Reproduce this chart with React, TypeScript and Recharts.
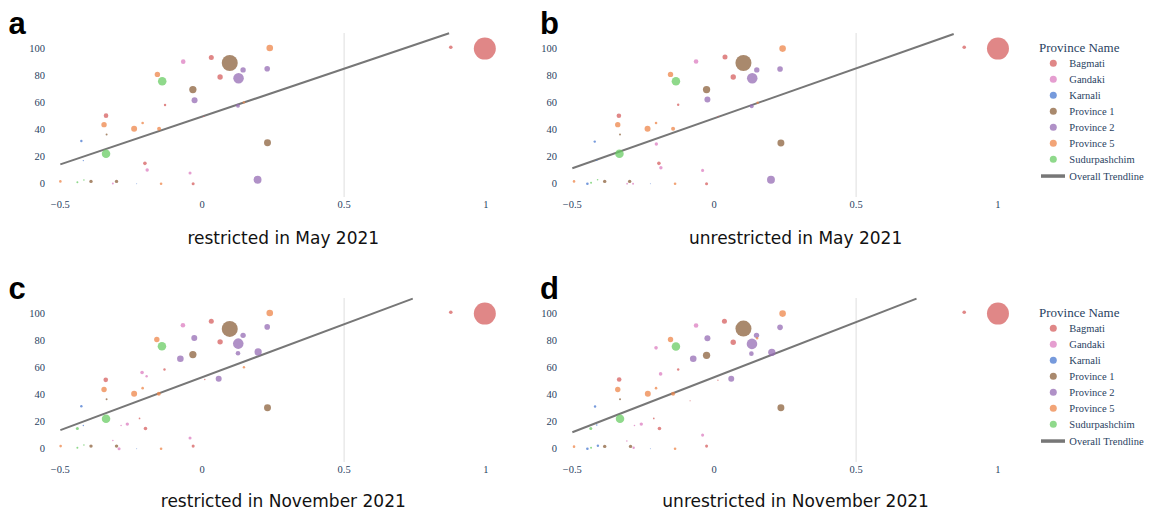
import { ScatterChart, Scatter, XAxis, YAxis, ZAxis, ReferenceLine } from "recharts";

// [province, correlation, score, size]
type Row = [string, number, number, number];

const provinces = [
  "Bagmati",
  "Gandaki",
  "Karnali",
  "Province 1",
  "Province 2",
  "Province 5",
  "Sudurpashchim",
];
const provinceColors = [
  "#D65F5F",
  "#DC7EC0",
  "#4878D0",
  "#8C613C",
  "#956CB4",
  "#EE854A",
  "#6ACC64",
];

const xTicks = [-0.5, 0, 0.5, 1];
const yTicks = [0, 20, 40, 60, 80, 100];

const restrictedMay: Row[] = [
  ["Province 5", -0.5, 1.7, 1.4],
  ["Sudurpashchim", -0.44, 1, 0.8],
  ["Sudurpashchim", -0.417, 2.7, 0.5],
  ["Province 1", -0.392, 1.7, 2.4],
  ["Karnali", -0.419, 17, 0.4],
  ["Karnali", -0.426, 31.4, 1.2],
  ["Bagmati", -0.339, 50.1, 4.4],
  ["Province 5", -0.346, 43.5, 6],
  ["Province 1", -0.337, 36.3, 0.8],
  ["Sudurpashchim", -0.339, 22.1, 15],
  ["Province 1", -0.302, 1.7, 2.4],
  ["Gandaki", -0.315, 0.2, 0.8],
  ["Karnali", -0.231, 0, 0.2],
  ["Province 5", -0.24, 40.5, 7.4],
  ["Province 5", -0.21, 44.7, 1.4],
  ["Bagmati", -0.202, 15, 2.7],
  ["Gandaki", -0.194, 10.1, 2.4],
  ["Province 5", -0.158, 80.5, 6],
  ["Sudurpashchim", -0.141, 75.4, 15],
  ["Bagmati", -0.131, 58, 1.2],
  ["Province 5", -0.152, 40.5, 3.3],
  ["Province 5", -0.145, 0, 1.4],
  ["Gandaki", -0.067, 89.9, 4.4],
  ["Province 1", -0.033, 69.3, 11],
  ["Province 2", -0.027, 61.4, 7.4],
  ["Gandaki", -0.043, 7.9, 1.9],
  ["Bagmati", -0.032, 0, 1.9],
  ["Bagmati", 0.005, 49.6, 0.4],
  ["Bagmati", 0.032, 93, 5.2],
  ["Province 1", 0.097, 88.9, 53],
  ["Bagmati", 0.063, 78.6, 6],
  ["Province 2", 0.144, 83.8, 6],
  ["Province 2", 0.128, 77.6, 23],
  ["Province 2", 0.126, 57.5, 3.3],
  ["Province 5", 0.147, 59.9, 1.2],
  ["Province 5", 0.238, 100, 9],
  ["Province 2", 0.229, 84.7, 6.5],
  ["Province 1", 0.23, 30.2, 10],
  ["Province 2", 0.195, 2.9, 13],
  ["Bagmati", 0.876, 100.5, 2.7],
  ["Bagmati", 0.996, 99.5, 100],
];

const unrestrictedMay: Row[] = [
  ["Province 5", -0.494, 1.7, 1.4],
  ["Karnali", -0.447, 0, 1.4],
  ["Sudurpashchim", -0.434, 0.7, 0.8],
  ["Sudurpashchim", -0.411, 2.9, 0.5],
  ["Province 1", -0.386, 1.7, 2.4],
  ["Karnali", -0.421, 31, 1.2],
  ["Karnali", -0.414, 17.2, 0.4],
  ["Bagmati", -0.336, 50, 4.4],
  ["Province 5", -0.34, 43.5, 6],
  ["Province 1", -0.332, 36.3, 0.8],
  ["Sudurpashchim", -0.334, 22.1, 15],
  ["Province 1", -0.298, 1.7, 2.4],
  ["Gandaki", -0.307, 0, 0.6],
  ["Gandaki", -0.286, 0, 0.8],
  ["Karnali", -0.225, 0, 0.2],
  ["Province 5", -0.235, 40.5, 7.4],
  ["Province 5", -0.205, 44.7, 1.4],
  ["Gandaki", -0.204, 29.2, 2.4],
  ["Bagmati", -0.195, 15, 2.7],
  ["Gandaki", -0.188, 11.8, 2.4],
  ["Province 5", -0.154, 80.5, 6],
  ["Sudurpashchim", -0.135, 75.4, 15],
  ["Bagmati", -0.127, 58.2, 1.2],
  ["Province 5", -0.145, 40.5, 3.3],
  ["Province 5", -0.138, 0, 1.4],
  ["Gandaki", -0.064, 90, 4.4],
  ["Province 1", -0.027, 69.3, 11],
  ["Province 2", -0.024, 62.1, 7.4],
  ["Gandaki", -0.041, 9.8, 1.9],
  ["Bagmati", -0.027, 0, 1.9],
  ["Bagmati", 0.038, 93.3, 5.2],
  ["Bagmati", 0.014, 49.6, 0.4],
  ["Province 1", 0.103, 88.9, 53],
  ["Bagmati", 0.067, 78.6, 6],
  ["Province 2", 0.15, 83.8, 6],
  ["Province 2", 0.134, 77.6, 23],
  ["Province 2", 0.132, 57, 3.3],
  ["Province 5", 0.153, 59.7, 1.2],
  ["Province 5", 0.241, 99.5, 9],
  ["Province 2", 0.232, 84.5, 6.5],
  ["Province 1", 0.235, 30, 10],
  ["Province 2", 0.2, 2.9, 13],
  ["Bagmati", 0.881, 100.5, 2.7],
  ["Bagmati", 1.0, 99.5, 100],
];

const restrictedNov: Row[] = [
  ["Province 5", -0.499, 1.9, 1.4],
  ["Sudurpashchim", -0.44, 0.7, 0.8],
  ["Sudurpashchim", -0.417, 2.7, 0.5],
  ["Province 1", -0.392, 1.9, 2.4],
  ["Sudurpashchim", -0.44, 14.9, 1.9],
  ["Karnali", -0.419, 17.1, 0.4],
  ["Karnali", -0.426, 31.3, 1.2],
  ["Bagmati", -0.34, 50.7, 4.4],
  ["Province 5", -0.346, 43.6, 6],
  ["Province 1", -0.337, 36.5, 0.8],
  ["Sudurpashchim", -0.339, 22, 15],
  ["Province 1", -0.302, 1.9, 2.4],
  ["Gandaki", -0.315, 6.1, 0.5],
  ["Gandaki", -0.293, 0, 1.9],
  ["Gandaki", -0.286, 17.1, 0.5],
  ["Gandaki", -0.264, 18.1, 2.4],
  ["Karnali", -0.231, 0, 0.2],
  ["Province 5", -0.24, 40.4, 7.4],
  ["Province 5", -0.21, 44.6, 1.4],
  ["Bagmati", -0.221, 22.3, 0.6],
  ["Bagmati", -0.2, 14.9, 2.7],
  ["Gandaki", -0.212, 56.1, 2.7],
  ["Gandaki", -0.196, 53.4, 1.2],
  ["Province 5", -0.16, 80.4, 6],
  ["Sudurpashchim", -0.142, 75.4, 15],
  ["Bagmati", -0.133, 58.3, 1.2],
  ["Province 5", -0.153, 40.4, 3.3],
  ["Province 5", -0.145, 0, 1.4],
  ["Gandaki", -0.068, 90.9, 4.4],
  ["Province 2", -0.028, 81.6, 7.4],
  ["Province 2", -0.077, 66.2, 9],
  ["Province 1", -0.033, 69.3, 11],
  ["Gandaki", -0.043, 7.8, 1.9],
  ["Bagmati", -0.032, 1.9, 1.9],
  ["Bagmati", 0.009, 51, 0.4],
  ["Bagmati", 0.032, 93.8, 5.2],
  ["Province 1", 0.097, 88.2, 53],
  ["Bagmati", 0.063, 78.7, 6],
  ["Province 2", 0.058, 51.5, 7.4],
  ["Province 2", 0.144, 83.5, 6],
  ["Province 2", 0.127, 77.4, 23],
  ["Province 2", 0.126, 70.3, 4.4],
  ["Province 5", 0.147, 60, 1.2],
  ["Province 2", 0.197, 71.3, 11],
  ["Province 5", 0.238, 100, 9],
  ["Province 2", 0.229, 89.7, 6.5],
  ["Province 1", 0.23, 30.1, 10],
  ["Bagmati", 0.876, 100.5, 2.7],
  ["Bagmati", 0.996, 99.5, 100],
];

const unrestrictedNov: Row[] = [
  ["Province 5", -0.494, 1.5, 1.4],
  ["Karnali", -0.447, 0, 1.4],
  ["Sudurpashchim", -0.434, 0.7, 0.8],
  ["Karnali", -0.41, 2.2, 1.2],
  ["Province 1", -0.386, 1.7, 2.4],
  ["Sudurpashchim", -0.435, 14.9, 1.9],
  ["Karnali", -0.414, 17.4, 0.5],
  ["Karnali", -0.42, 31.1, 1.2],
  ["Bagmati", -0.335, 51, 4.4],
  ["Province 5", -0.34, 43.6, 6],
  ["Province 1", -0.332, 36.5, 0.8],
  ["Sudurpashchim", -0.332, 22, 15],
  ["Province 1", -0.295, 1.7, 2.4],
  ["Gandaki", -0.308, 5.6, 0.5],
  ["Gandaki", -0.284, 0.7, 1.2],
  ["Gandaki", -0.281, 17.1, 0.5],
  ["Gandaki", -0.257, 18.1, 2.4],
  ["Karnali", -0.225, 0, 0.2],
  ["Province 5", -0.234, 40.4, 7.4],
  ["Province 5", -0.205, 44.6, 1.4],
  ["Bagmati", -0.213, 22.3, 0.6],
  ["Bagmati", -0.193, 14.9, 2.7],
  ["Gandaki", -0.205, 74.3, 2.7],
  ["Gandaki", -0.189, 55.1, 2.7],
  ["Province 5", -0.154, 80.4, 6],
  ["Sudurpashchim", -0.135, 75.2, 15],
  ["Bagmati", -0.127, 58.3, 1.2],
  ["Province 5", -0.145, 40.4, 3.3],
  ["Province 5", -0.138, 0, 1.4],
  ["Bagmati", -0.085, 35.3, 0.3],
  ["Gandaki", -0.064, 90.7, 4.4],
  ["Province 2", -0.024, 81.3, 7.4],
  ["Province 2", -0.074, 66.2, 9],
  ["Province 1", -0.027, 68.8, 11],
  ["Gandaki", -0.041, 10, 1.9],
  ["Bagmati", -0.027, 1.9, 1.9],
  ["Bagmati", 0.013, 50.5, 0.4],
  ["Bagmati", 0.036, 93.8, 5.2],
  ["Province 1", 0.103, 88.5, 53],
  ["Bagmati", 0.067, 78.4, 6],
  ["Province 2", 0.06, 51.5, 7.4],
  ["Province 2", 0.149, 83.5, 6],
  ["Province 5", 0.151, 81.3, 1.2],
  ["Province 2", 0.133, 77.2, 23],
  ["Province 2", 0.131, 70, 4.4],
  ["Province 2", 0.203, 71, 11],
  ["Province 5", 0.241, 99.5, 9],
  ["Province 2", 0.232, 89.4, 6.5],
  ["Province 1", 0.235, 30.1, 10],
  ["Bagmati", 0.881, 100.5, 2.7],
  ["Bagmati", 1.0, 99.5, 100],
];

// overall trendline end points per panel
const trendRestrictedMay = [
  { x: -0.5, y: 14.2 },
  { x: 0.87, y: 110.8 },
];
const trendUnrestrictedMay = [
  { x: -0.5, y: 11.4 },
  { x: 0.844, y: 110.3 },
];
const trendRestrictedNov = [
  { x: -0.5, y: 13.7 },
  { x: 0.742, y: 110.5 },
];
const trendUnrestrictedNov = [
  { x: -0.5, y: 12.1 },
  { x: 0.713, y: 110.5 },
];

const tickFont = {
  fill: "#2a3f5f",
  fontSize: 10.5,
  fontFamily: "'Liberation Serif', serif",
};

const fmtX = (v: number) => (v < 0 ? `\u2212${Math.abs(v)}` : `${v}`);

type PanelProps = {
  rows: Row[];
  trend: { x: number; y: number }[];
  plotLeft: number;
  plotTop: number;
};

function Panel({ rows, trend, plotLeft, plotTop }: PanelProps) {
  return (
    <div style={{ position: "absolute", left: plotLeft - 48, top: plotTop - 10 }}>
      <ScatterChart
        width={514}
        height={210}
        margin={{ top: 10, right: 12, bottom: 6, left: 8 }}
      >
        <XAxis
          type="number"
          dataKey="x"
          domain={[-0.54, 1.06]}
          ticks={xTicks}
          allowDataOverflow
          axisLine={false}
          tickLine={false}
          tickSize={0}
          tickMargin={4}
          height={30}
          tick={tickFont}
          tickFormatter={fmtX}
        />
        <YAxis
          type="number"
          dataKey="y"
          domain={[-9.8, 111]}
          ticks={yTicks}
          allowDataOverflow
          axisLine={false}
          tickLine={false}
          tickSize={0}
          tickMargin={4}
          width={40}
          tick={tickFont}
        />
        <ZAxis type="number" dataKey="z" domain={[0, 100]} range={[0, 380]} />
        <ReferenceLine x={0.5} stroke="#dedede" strokeWidth={1} />
        {provinces.map((p, i) => (
          <Scatter
            key={p}
            name={p}
            data={rows
              .filter((r) => r[0] === p)
              .map((r) => ({ x: r[1], y: r[2], z: r[3] }))}
            fill={provinceColors[i]}
            fillOpacity={0.75}
            isAnimationActive={false}
          />
        ))}
        <ReferenceLine
          segment={trend}
          stroke="#777777"
          strokeWidth={2}
        />
      </ScatterChart>
    </div>
  );
}

function Legend({ top }: { top: number }) {
  return (
    <g fontFamily="'Liberation Serif', serif" fill="#2a3f5f">
      <text x={1039} y={top} fontSize={13} dominantBaseline="central">
        Province Name
      </text>
      {provinces.map((p, i) => (
        <g key={p}>
          <circle
            cx={1053.3}
            cy={top + 16 + 16 * i}
            r={3.5}
            fill={provinceColors[i]}
            fillOpacity={0.75}
          />
          <text
            x={1069.3}
            y={top + 16 + 16 * i}
            fontSize={10.5}
            dominantBaseline="central"
          >
            {p}
          </text>
        </g>
      ))}
      <rect x={1041} y={top + 127} width={24} height={3.5} fill="#777777" />
      <text x={1069.3} y={top + 128.8} fontSize={10.5} dominantBaseline="central">
        Overall Trendline
      </text>
    </g>
  );
}

const titleStyle = {
  fontFamily: "'DejaVu Sans', sans-serif",
  fontSize: 17,
  fill: "#111",
};
const letterStyle = {
  fontFamily: "'Liberation Sans', Arial, sans-serif",
  fontSize: 31,
  fontWeight: 700,
  fill: "#000",
};

export default function App() {
  return (
    <div
      style={{
        position: "fixed",
        left: 0,
        top: 0,
        width: 1159,
        height: 511,
        background: "#fff",
        overflow: "hidden",
      }}
    >
      <Panel rows={restrictedMay} trend={trendRestrictedMay} plotLeft={48.6} plotTop={33.3} />
      <Panel rows={unrestrictedMay} trend={trendUnrestrictedMay} plotLeft={560.9} plotTop={33.3} />
      <Panel rows={restrictedNov} trend={trendRestrictedNov} plotLeft={48.6} plotTop={298.3} />
      <Panel rows={unrestrictedNov} trend={trendUnrestrictedNov} plotLeft={560.9} plotTop={298.3} />
      <svg
        width={1159}
        height={511}
        style={{ position: "absolute", left: 0, top: 0, pointerEvents: "none" }}
      >
        <text x={8.5} y={34} {...letterStyle}>a</text>
        <text x={540} y={34} {...letterStyle}>b</text>
        <text x={8.5} y={299} {...letterStyle}>c</text>
        <text x={540} y={299} {...letterStyle}>d</text>
        <text x={283.3} y={244.3} textAnchor="middle" {...titleStyle}>
          restricted in May 2021
        </text>
        <text x={795.6} y={244.3} textAnchor="middle" {...titleStyle}>
          unrestricted in May 2021
        </text>
        <text x={283.3} y={506.5} textAnchor="middle" {...titleStyle}>
          restricted in November 2021
        </text>
        <text x={795.6} y={506.5} textAnchor="middle" {...titleStyle}>
          unrestricted in November 2021
        </text>
        <Legend top={47.3} />
        <Legend top={312.3} />
      </svg>
    </div>
  );
}
